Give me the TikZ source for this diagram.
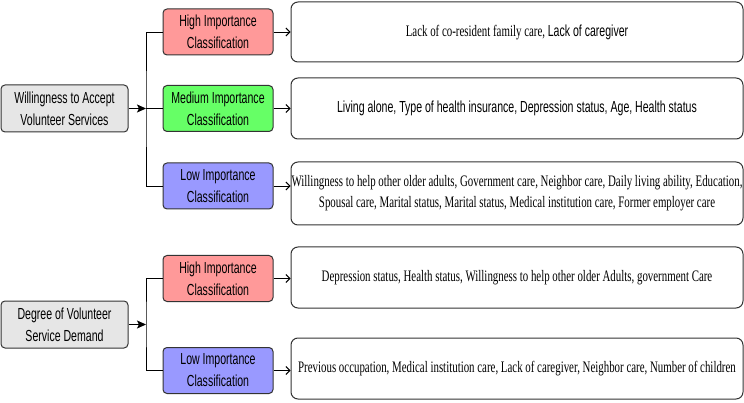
\documentclass[tikz,border=0pt]{standalone}
\usepackage{xcolor}
\usepackage{fontspec}
\usepackage{tikz}
\usetikzlibrary{arrows.meta, positioning}
\newfontfamily\narrowsans[FakeStretch=0.66]{Liberation Sans}
\newfontfamily\narrowserif[FakeStretch=0.68]{Liberation Serif}
\definecolor{rootgray}{HTML}{E6E6E6}
\definecolor{highred}{HTML}{FF9999}
\definecolor{midgreen}{HTML}{66FF66}
\definecolor{lowblue}{HTML}{9999FF}
\definecolor{edgegray}{HTML}{333333}

\begin{document}
\begin{tikzpicture}[x=1pt, y=-1pt,
    rootbox/.style={draw=edgegray, line width=1pt, rounded corners=4pt, fill=rootgray,
        minimum width=127pt, minimum height=47pt, align=center, inner sep=1pt,
        font=\narrowsans\fontsize{16}{22}\selectfont},
    classbox/.style={draw=edgegray, line width=1pt, rounded corners=4pt,
        minimum width=110pt, minimum height=46pt, align=center, inner sep=1pt,
        font=\narrowsans\fontsize{16}{22}\selectfont},
    itembox/.style={draw=edgegray, line width=1pt, rounded corners=7pt, fill=white,
        minimum width=452pt, minimum height=61pt, align=center, inner sep=0pt,
        font=\fontsize{16}{21}\selectfont},
    link/.style={line width=0.9pt, black},
    feed/.style={link, -{Stealth[length=9pt, width=8pt, inset=2pt]}},
    lead/.style={link, -{Straight Barb[length=4pt, width=8pt]}}]
    \useasboundingbox (0,0) rectangle (744,403);

    % first question
    \node[rootbox] (willing) at (64.5,108.5) {Willingness to Accept\\Volunteer Services};
    \node[classbox, fill=highred] (high1) at (218,32) {High Importance\\Classification};
    \node[classbox, fill=midgreen] (mid1) at (218,108.5) {Medium Importance\\Classification};
    \node[classbox, fill=lowblue] (low1) at (218,186) {Low Importance\\Classification};
    \node[itembox, minimum height=60pt] (items1) at (517,32)
        {{\narrowserif Lack of co-resident family care, }{\narrowsans Lack of caregiver}};
    \node[itembox, font=\narrowsans\fontsize{16}{21}\selectfont] (items2) at (517,108.5)
        {Living alone, Type of health insurance, Depression status, Age, Health status};
    \node[itembox, minimum height=63pt, font=\narrowserif\fontsize{16}{21}\selectfont] (items3) at (517,193.5)
        {Willingness to help other older adults, Government care, Neighbor care, Daily living ability, Education,\\
         Spousal care, Marital status, Marital status, Medical institution care, Former employer care};

    % second question
    \node[rootbox] (demand) at (64.5,324.5) {Degree of Volunteer\\Service Demand};
    \node[classbox, fill=highred] (high2) at (218,278.5) {High Importance\\Classification};
    \node[classbox, fill=lowblue] (low2) at (218,370.5) {Low Importance\\Classification};
    \node[itembox, font=\narrowserif\fontsize{16}{21}\selectfont] (items4) at (517,277.5)
        {Depression status, Health status, Willingness to help other older Adults, government Care};
    \node[itembox, font=\narrowserif\fontsize{16}{21}\selectfont] (items5) at (517,368.5)
        {Previous occupation, Medical institution care, Lack of caregiver, Neighbor care, Number of children};

    % junctions
    \coordinate (fork1) at (146,108.5);
    \coordinate (fork2) at (146,324.5);

    \draw[feed] (willing) -- (fork1);
    \draw[link] (high1.west) -| (fork1) |- (low1.west);
    \draw[link] (fork1) -- (mid1.west);
    \draw[feed] (demand) -- (fork2);
    \draw[link] (high2.west) -| (fork2) |- (low2.west);

    \draw[lead] (high1) -- (items1);
    \draw[lead] (mid1) -- (items2);
    \draw[lead] (low1.east) -- (low1.east -| items3.west);
    \draw[lead] (high2.east) -- (high2.east -| items4.west);
    \draw[lead] (low2.east) -- (low2.east -| items5.west);
\end{tikzpicture}
\end{document}
